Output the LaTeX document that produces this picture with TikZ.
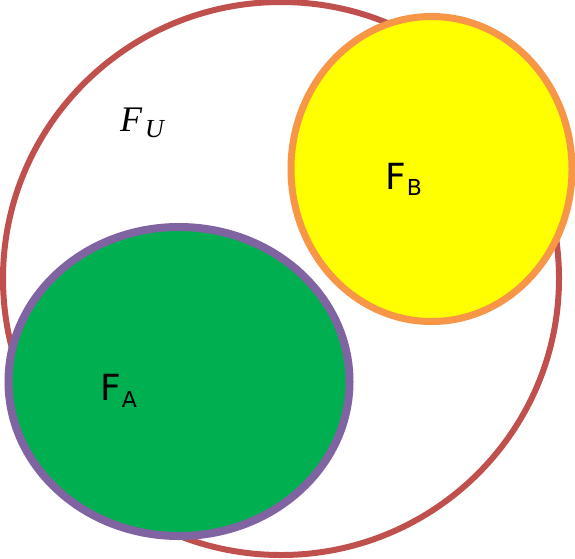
\documentclass[tikz,border=0pt]{standalone}
\usepackage{fontspec}
\setmainfont{DejaVu Sans}
\newfontfamily\serifit{Liberation Serif}[ItalicFont={Liberation Serif Italic}]
\definecolor{ringred}{HTML}{C0504D}
\definecolor{ringorange}{HTML}{F79646}
\definecolor{ringpurple}{HTML}{8064A2}
\definecolor{fillgreen}{HTML}{00B050}
\definecolor{fillyellow}{HTML}{FFFF00}
\begin{document}
\begin{tikzpicture}[x=1pt, y=-1pt,
    every node/.style={inner sep=0pt, anchor=base west},
    setlabel/.style={font=\fontsize{36}{43}\selectfont}]
    \useasboundingbox (0,0) rectangle (575,558);

    % Himpunan semesta
    \draw[line width=6pt, color=ringred] (281,278.5) ellipse (278 and 276.5);

    % Himpunan B
    \draw[line width=7pt, color=ringorange, fill=fillyellow] (431.5,169) ellipse (140.5 and 152.5);

    % Himpunan A
    \draw[line width=8pt, color=ringpurple, fill=fillgreen] (179,381.5) ellipse (170.5 and 154.5);

    % Label
    \node (lblU) at (120,131) {\serifit\itshape\fontsize{36}{43}\selectfont F\kern3pt\raisebox{-6pt}{\fontsize{26}{31}\selectfont U}};
    \node[setlabel] (lblB) at (385,189) {F\kern1pt\raisebox{-6pt}{\fontsize{22}{26}\selectfont B}};
    \node[setlabel] (lblA) at (100,400) {F\kern1pt\raisebox{-7pt}{\fontsize{22}{26}\selectfont A}};
\end{tikzpicture}
\end{document}
